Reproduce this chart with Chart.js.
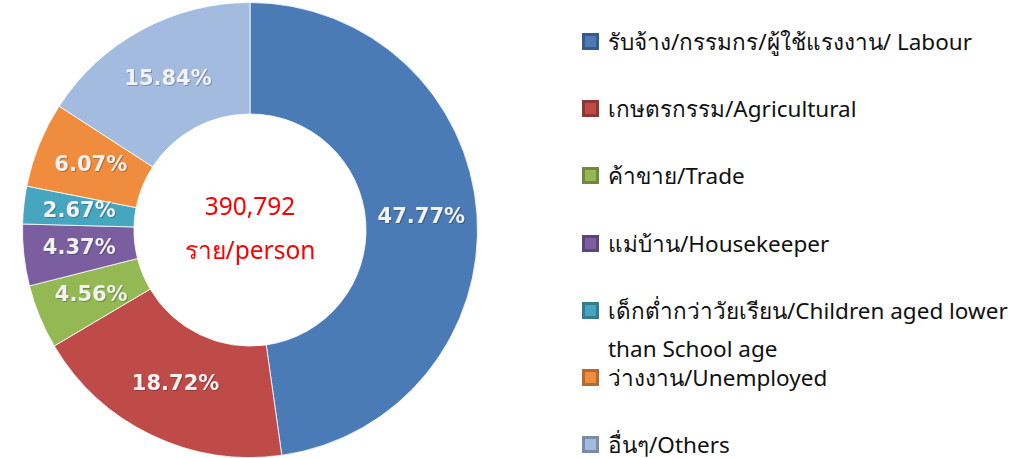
<!DOCTYPE html>
<html>
<head>
<meta charset="utf-8">
<script src="https://cdn.jsdelivr.net/npm/chart.js@4.4.1/dist/chart.umd.min.js"></script>
<style>
    body { margin: 0; background: #fff; width: 1030px; height: 458px; overflow: hidden; position: relative; }
    #wrap { position: absolute; left: 0; top: 0; width: 500px; height: 458px; }
    #legend { position: absolute; left: 582px; top: 0; width: 448px; height: 458px; font-family: "Noto Sans", "Open Sans", sans-serif; font-size: 22.5px; color: #111; }
    .item { position: absolute; left: 0; display: flex; align-items: flex-start; }
    .box { width: 17px; height: 17px; margin-top: 10px; margin-right: 9px; box-sizing: border-box; border: 3px solid rgba(0,0,0,0.25); }
    .txt { line-height: 38px; white-space: nowrap; }
</style>
</head>
<body>
<div id="wrap"><canvas id="donut"></canvas></div>
<div id="legend"></div>
<script>
const categories = [
    'รับจ้าง/กรรมกร/ผู้ใช้แรงงาน/ Labour',
    'เกษตรกรรม/Agricultural',
    'ค้าขาย/Trade',
    'แม่บ้าน/Housekeeper',
    ['เด็กต่ำกว่าวัยเรียน/Children aged lower', 'than School age'],
    'ว่างงาน/Unemployed',
    'อื่นๆ/Others'
];
const shares = [47.77, 18.72, 4.56, 4.37, 2.67, 6.07, 15.84];
const colors = ['#4a7bb7', '#be4b48', '#94b853', '#7b5e9f', '#46a5bf', '#f08c3e', '#a3bbdf'];
const totalPersons = '390,792';
const unitLabel = 'ราย/person';

// percentage labels + centre total
const donutText = {
    id: 'donutText',
    afterDatasetsDraw(chart) {
        const ctx = chart.ctx;
        const meta = chart.getDatasetMeta(0);
        ctx.save();
        ctx.textAlign = 'center';
        ctx.textBaseline = 'middle';
        ctx.font = 'bold 21px "DejaVu Sans"';
        meta.data.forEach((arc, i) => {
            const p = arc.getCenterPoint();
            ctx.fillStyle = 'rgba(0,0,0,0.25)';
            ctx.fillText(shares[i].toFixed(2) + '%', p.x + 1, p.y + 1);
            ctx.fillStyle = '#f2f2f2';
            ctx.fillText(shares[i].toFixed(2) + '%', p.x, p.y);
        });
        const c = meta.data[0];
        ctx.fillStyle = '#ff0000';
        ctx.font = '24.5px "Noto Sans", sans-serif';
        ctx.fillText(totalPersons, c.x, c.y - 22);
        ctx.fillText(unitLabel, c.x, c.y + 22);
        ctx.restore();
    }
};

new Chart(document.getElementById('donut'), {
    type: 'doughnut',
    data: {
        labels: categories,
        datasets: [{
            data: shares,
            backgroundColor: colors,
            borderColor: 'rgba(255,255,255,0.8)',
            borderWidth: 1
        }]
    },
    options: {
        responsive: true,
        maintainAspectRatio: false,
        animation: false,
        cutout: '51%',
        layout: { padding: { top: 2, bottom: 0 } },
        plugins: {
            legend: { display: false },
            tooltip: { enabled: false }
        }
    },
    plugins: [donutText]
});

// legend on the right
const legend = document.getElementById('legend');
categories.forEach((label, i) => {
    const item = document.createElement('div');
    item.className = 'item';
    item.style.top = (23 + i * 67.2) + 'px';
    const box = document.createElement('div');
    box.className = 'box';
    box.style.background = colors[i];
    const txt = document.createElement('div');
    txt.className = 'txt';
    txt.innerHTML = [].concat(label).join('<br>');
    item.appendChild(box);
    item.appendChild(txt);
    legend.appendChild(item);
});
</script>
</body>
</html>
